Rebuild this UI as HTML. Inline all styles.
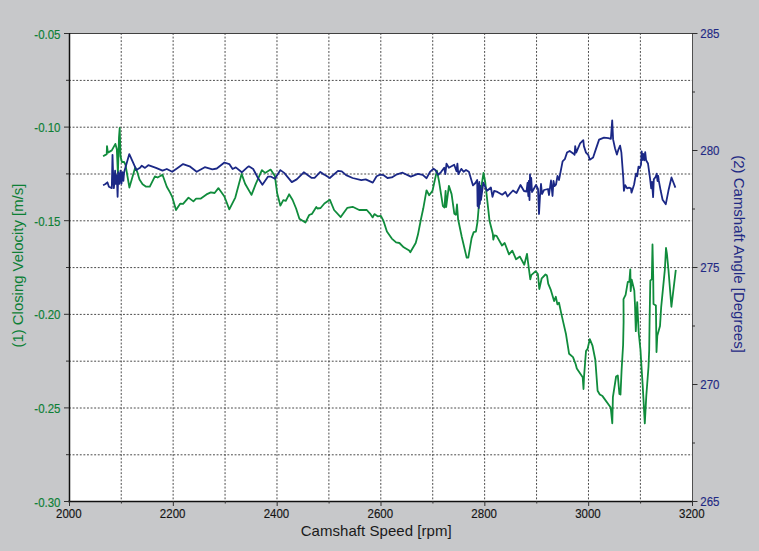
<!DOCTYPE html>
<html><head><meta charset="utf-8"><style>
html,body{margin:0;padding:0;background:#c7c8ca;width:759px;height:551px;overflow:hidden}
svg{display:block}
text{font-family:"Liberation Sans",sans-serif;stroke-width:0.15px}
</style></head><body>
<svg width="759" height="551" viewBox="0 0 759 551">
<rect x="0" y="0" width="759" height="551" fill="#c7c8ca"/>
<rect x="69.0" y="33.0" width="623.0" height="468.0" fill="#ffffff"/>

<g stroke="#4a4a4a" stroke-width="1" stroke-dasharray="1.9 1.7"><line x1="121.22" y1="33.0" x2="121.22" y2="501.0"/><line x1="173.13" y1="33.0" x2="173.13" y2="501.0"/><line x1="225.05" y1="33.0" x2="225.05" y2="501.0"/><line x1="276.97" y1="33.0" x2="276.97" y2="501.0"/><line x1="328.89" y1="33.0" x2="328.89" y2="501.0"/><line x1="380.80" y1="33.0" x2="380.80" y2="501.0"/><line x1="432.72" y1="33.0" x2="432.72" y2="501.0"/><line x1="484.64" y1="33.0" x2="484.64" y2="501.0"/><line x1="536.55" y1="33.0" x2="536.55" y2="501.0"/><line x1="588.47" y1="33.0" x2="588.47" y2="501.0"/><line x1="640.39" y1="33.0" x2="640.39" y2="501.0"/><line x1="69.0" y1="80.40" x2="692.0" y2="80.40"/><line x1="69.0" y1="127.20" x2="692.0" y2="127.20"/><line x1="69.0" y1="174.00" x2="692.0" y2="174.00"/><line x1="69.0" y1="220.80" x2="692.0" y2="220.80"/><line x1="69.0" y1="267.60" x2="692.0" y2="267.60"/><line x1="69.0" y1="314.40" x2="692.0" y2="314.40"/><line x1="69.0" y1="361.20" x2="692.0" y2="361.20"/><line x1="69.0" y1="408.00" x2="692.0" y2="408.00"/><line x1="69.0" y1="454.80" x2="692.0" y2="454.80"/></g>
<polyline fill="none" stroke="#108c3c" stroke-width="1.8" stroke-linejoin="round" points="103.1,156.2 106.7,154.1 107.0,146.1 107.9,152.6 111.8,150.4 115.4,143.9 116.8,149.0 117.9,173.6 119.0,137.4 119.7,128.0 120.5,156.2 121.9,162.0 124.1,162.0 125.5,164.9 129.4,187.5 135.3,167.3 137.1,171.6 139.5,179.5 142.6,184.3 145.8,186.6 149.8,186.6 154.9,176.4 157.6,177.5 162.5,174.8 166.8,186.8 170.0,192.4 172.2,196.8 176.0,210.1 180.3,203.6 183.1,203.9 188.5,197.6 193.4,201.4 196.1,198.7 200.5,198.7 206.5,194.4 210.8,192.4 214.6,193.0 218.4,188.1 224.4,196.5 229.3,209.4 235.3,197.6 241.6,173.9 245.1,183.7 251.5,194.9 255.9,183.7 261.9,170.1 265.1,172.9 270.6,169.6 274.9,176.1 277.1,193.0 280.4,205.7 283.3,200.2 285.8,200.8 289.1,194.3 292.6,200.0 296.1,208.5 299.4,218.8 305.4,222.6 309.2,215.0 311.9,213.9 316.3,206.9 317.4,208.5 320.6,208.0 324.4,203.5 329.8,199.7 334.1,210.0 340.7,217.1 347.2,207.9 352.6,206.8 359.2,210.0 366.8,210.0 370.0,213.6 372.7,217.4 374.4,214.1 377.6,216.3 380.9,215.8 383.6,221.2 386.9,231.6 391.8,238.6 396.1,242.4 399.4,243.0 403.7,247.3 409.2,250.6 410.3,252.2 415.7,243.0 417.9,234.8 421.1,218.5 423.3,208.3 426.5,190.3 429.2,195.2 432.5,190.8 436.9,170.6 439.0,181.1 442.9,206.1 444.5,207.5 445.6,190.8 446.2,207.0 448.9,185.9 451.6,194.1 454.3,213.7 455.9,214.8 457.0,204.5 458.1,219.2 461.8,237.0 466.7,257.7 468.3,257.7 471.6,238.1 473.7,232.1 475.9,231.6 477.5,221.8 478.6,208.7 481.3,187.2 483.5,173.0 485.2,181.8 489.5,220.7 492.8,233.7 493.3,239.7 494.4,235.3 496.6,235.9 502.0,245.5 504.7,243.0 509.0,254.4 512.3,250.6 516.1,259.3 519.9,256.6 524.3,264.7 527.0,253.8 528.0,262.0 530.3,279.4 531.3,275.1 535.7,271.2 537.9,274.0 539.3,289.0 541.7,278.3 545.5,274.5 546.5,275.0 547.1,276.1 548.2,283.7 550.9,290.2 554.1,301.1 555.8,296.8 557.4,304.4 559.0,302.7 561.2,313.1 563.4,322.9 565.9,333.7 569.1,353.8 573.0,357.1 575.7,364.2 576.8,368.5 582.7,377.2 583.5,389.0 584.0,377.0 586.0,351.1 587.6,348.9 589.8,339.1 592.5,345.7 595.3,359.8 597.6,390.7 599.8,394.5 602.5,396.1 610.7,407.5 612.3,423.3 612.9,397.2 616.1,376.5 617.8,375.4 619.4,393.9 620.5,394.5 621.6,370.0 623.1,345.0 623.6,322.0 623.5,299.2 625.6,294.8 627.8,281.8 629.3,281.8 630.3,269.4 630.7,291.2 631.7,279.6 634.3,290.5 635.0,305.0 635.8,331.1 637.2,302.1 638.7,332.6 640.5,350.0 641.2,362.4 642.7,385.6 644.8,423.4 646.3,395.8 648.5,366.8 649.2,350.0 649.6,320.0 650.3,280.7 651.8,279.2 652.5,244.4 653.2,276.3 653.5,303.9 655.9,305.4 656.5,352.0 657.3,335.7 660.0,326.0 661.2,306.8 664.9,269.1 666.0,248.0 667.0,254.5 668.5,270.5 671.4,306.8 675.8,269.8"/>
<polyline fill="none" stroke="#1b2886" stroke-width="1.8" stroke-linejoin="round" points="103.1,185.2 105.5,184.0 107.4,182.3 108.9,186.7 111.8,188.1 112.5,154.8 113.2,176.5 113.9,188.1 115.1,170.7 115.7,183.8 116.8,175.1 117.6,196.8 118.3,172.2 119.4,183.8 120.5,170.7 121.5,183.8 122.3,172.2 123.4,180.9 124.1,172.2 129.3,154.1 134.8,166.4 136.4,170.0 140.0,167.8 141.8,165.7 145.0,167.9 148.3,165.2 156.0,167.9 162.5,170.6 166.8,169.0 172.2,171.8 177.6,168.0 183.1,164.1 189.6,166.3 196.7,171.8 204.8,167.2 212.4,169.4 216.8,168.5 224.4,162.5 229.3,164.1 232.6,169.0 235.8,167.4 241.8,172.3 247.8,166.9 248.8,166.3 253.2,169.0 257.5,177.2 262.4,184.8 267.9,176.7 271.1,176.7 274.9,178.8 280.4,170.1 284.2,172.9 291.8,182.1 296.7,179.4 303.8,172.3 311.4,177.8 314.6,177.8 320.3,171.9 323.3,174.1 325.0,175.0 329.8,178.0 338.0,170.9 341.8,171.4 346.1,175.2 352.6,178.0 361.3,180.1 365.7,179.4 372.8,182.6 376.6,176.3 379.8,174.7 383.7,175.2 387.5,178.0 391.8,177.4 396.2,174.7 402.6,172.7 410.8,176.6 417.9,173.8 422.7,174.9 426.6,178.2 430.0,171.8 433.5,168.6 435.3,170.0 438.3,174.8 441.2,171.8 444.2,167.7 445.3,174.2 446.5,163.6 448.9,167.7 454.2,164.7 456.5,171.2 457.4,163.6 458.3,174.2 461.3,168.9 463.6,171.8 466.0,170.0 468.9,171.8 473.0,185.4 475.4,183.0 477.2,180.0 477.6,206.0 478.2,184.0 478.7,208.0 479.3,182.0 479.8,204.0 480.4,186.0 481.0,200.0 483.3,182.6 487.1,190.8 490.9,187.5 492.5,196.8 494.2,190.8 497.4,191.9 501.8,194.6 502.5,194.5 505.5,192.0 507.5,196.5 513.0,190.5 516.5,193.0 520.5,185.0 524.0,191.0 526.5,191.5 527.5,183.0 528.3,196.0 528.8,181.0 529.5,200.0 530.0,174.5 530.5,190.0 531.2,178.0 532.0,192.0 536.0,185.0 538.0,189.0 539.0,214.0 540.0,196.0 541.0,184.0 542.0,194.0 544.0,190.0 548.0,189.0 549.0,195.0 551.0,180.5 552.5,196.0 553.5,181.0 554.5,186.0 556.0,184.5 557.5,176.0 559.0,180.0 562.6,161.3 564.8,159.2 567.0,152.6 569.7,151.0 573.5,153.7 574.6,154.8 575.2,146.1 576.2,152.6 580.1,143.4 583.3,140.1 583.9,146.1 586.0,152.6 588.2,154.8 589.8,159.7 593.1,157.5 595.8,149.4 599.1,139.6 604.0,137.6 608.3,138.2 610.9,138.8 612.2,120.3 613.1,139.4 615.0,148.3 616.9,154.6 618.2,150.2 620.1,145.7 621.4,152.7 623.3,178.1 623.9,190.8 625.2,185.1 627.1,188.3 629.0,187.6 630.9,188.3 631.5,192.7 634.1,184.5 636.0,173.7 637.2,176.2 638.5,166.7 639.8,168.0 641.0,164.8 641.7,151.4 642.4,160.0 643.2,154.0 644.2,160.3 645.2,152.1 646.1,160.3 648.0,163.5 650.0,178.1 651.2,188.3 652.0,182.0 653.1,197.2 653.8,179.4 655.7,176.8 656.7,173.7 657.5,181.0 658.2,176.0 658.8,180.7 660.7,190.8 662.6,199.7 665.8,204.2 668.4,190.8 671.5,177.5 675.4,187.6"/>
<line x1="69.0" y1="33.5" x2="692.0" y2="33.5" stroke="#404040" stroke-width="1"/>
<line x1="692.5" y1="33.0" x2="692.5" y2="502.0" stroke="#505050" stroke-width="1"/>
<line x1="68.0" y1="501.5" x2="693.0" y2="501.5" stroke="#101010" stroke-width="1.3"/>
<line x1="69.5" y1="33.0" x2="69.5" y2="502.0" stroke="#101010" stroke-width="1.5"/>
<g stroke="#303030" stroke-width="1"><line x1="64.0" y1="33.50" x2="69.0" y2="33.50"/><line x1="66.0" y1="80.30" x2="69.0" y2="80.30"/><line x1="64.0" y1="127.10" x2="69.0" y2="127.10"/><line x1="66.0" y1="173.90" x2="69.0" y2="173.90"/><line x1="64.0" y1="220.70" x2="69.0" y2="220.70"/><line x1="66.0" y1="267.50" x2="69.0" y2="267.50"/><line x1="64.0" y1="314.30" x2="69.0" y2="314.30"/><line x1="66.0" y1="361.10" x2="69.0" y2="361.10"/><line x1="64.0" y1="407.90" x2="69.0" y2="407.90"/><line x1="66.0" y1="454.70" x2="69.0" y2="454.70"/><line x1="64.0" y1="501.50" x2="69.0" y2="501.50"/><line x1="692.0" y1="33.50" x2="697.5" y2="33.50"/><line x1="692.0" y1="92.00" x2="695.0" y2="92.00"/><line x1="692.0" y1="150.50" x2="697.5" y2="150.50"/><line x1="692.0" y1="209.00" x2="695.0" y2="209.00"/><line x1="692.0" y1="267.50" x2="697.5" y2="267.50"/><line x1="692.0" y1="326.00" x2="695.0" y2="326.00"/><line x1="692.0" y1="384.50" x2="697.5" y2="384.50"/><line x1="692.0" y1="443.00" x2="695.0" y2="443.00"/><line x1="692.0" y1="501.50" x2="697.5" y2="501.50"/><line x1="69.50" y1="501.0" x2="69.50" y2="506.0"/><line x1="121.42" y1="501.0" x2="121.42" y2="503.5"/><line x1="173.33" y1="501.0" x2="173.33" y2="506.0"/><line x1="225.25" y1="501.0" x2="225.25" y2="503.5"/><line x1="277.17" y1="501.0" x2="277.17" y2="506.0"/><line x1="329.08" y1="501.0" x2="329.08" y2="503.5"/><line x1="381.00" y1="501.0" x2="381.00" y2="506.0"/><line x1="432.92" y1="501.0" x2="432.92" y2="503.5"/><line x1="484.83" y1="501.0" x2="484.83" y2="506.0"/><line x1="536.75" y1="501.0" x2="536.75" y2="503.5"/><line x1="588.67" y1="501.0" x2="588.67" y2="506.0"/><line x1="640.58" y1="501.0" x2="640.58" y2="503.5"/><line x1="692.50" y1="501.0" x2="692.50" y2="506.0"/></g>
<text transform="translate(60.5,38.50) scale(0.95,1)" text-anchor="end" fill="#0c7f35" stroke="#0c7f35" font-size="12.1">-0.05</text><text transform="translate(60.5,132.10) scale(0.95,1)" text-anchor="end" fill="#0c7f35" stroke="#0c7f35" font-size="12.1">-0.10</text><text transform="translate(60.5,225.70) scale(0.95,1)" text-anchor="end" fill="#0c7f35" stroke="#0c7f35" font-size="12.1">-0.15</text><text transform="translate(60.5,319.30) scale(0.95,1)" text-anchor="end" fill="#0c7f35" stroke="#0c7f35" font-size="12.1">-0.20</text><text transform="translate(60.5,412.90) scale(0.95,1)" text-anchor="end" fill="#0c7f35" stroke="#0c7f35" font-size="12.1">-0.25</text><text transform="translate(60.5,506.50) scale(0.95,1)" text-anchor="end" fill="#0c7f35" stroke="#0c7f35" font-size="12.1">-0.30</text><text transform="translate(700.3,37.80) scale(0.95,1)" fill="#1f2a84" stroke="#1f2a84" font-size="12.1">285</text><text transform="translate(700.3,154.80) scale(0.95,1)" fill="#1f2a84" stroke="#1f2a84" font-size="12.1">280</text><text transform="translate(700.3,271.80) scale(0.95,1)" fill="#1f2a84" stroke="#1f2a84" font-size="12.1">275</text><text transform="translate(700.3,388.80) scale(0.95,1)" fill="#1f2a84" stroke="#1f2a84" font-size="12.1">270</text><text transform="translate(700.3,505.80) scale(0.95,1)" fill="#1f2a84" stroke="#1f2a84" font-size="12.1">265</text><text transform="translate(68.80,518) scale(0.95,1)" text-anchor="middle" fill="#141414" stroke="#141414" font-size="12.1">2000</text><text transform="translate(172.63,518) scale(0.95,1)" text-anchor="middle" fill="#141414" stroke="#141414" font-size="12.1">2200</text><text transform="translate(276.47,518) scale(0.95,1)" text-anchor="middle" fill="#141414" stroke="#141414" font-size="12.1">2400</text><text transform="translate(380.30,518) scale(0.95,1)" text-anchor="middle" fill="#141414" stroke="#141414" font-size="12.1">2600</text><text transform="translate(484.13,518) scale(0.95,1)" text-anchor="middle" fill="#141414" stroke="#141414" font-size="12.1">2800</text><text transform="translate(587.97,518) scale(0.95,1)" text-anchor="middle" fill="#141414" stroke="#141414" font-size="12.1">3000</text><text transform="translate(691.80,518) scale(0.95,1)" text-anchor="middle" fill="#141414" stroke="#141414" font-size="12.1">3200</text>
<text x="376.2" y="536" text-anchor="middle" fill="#1a1a1a" font-size="15" letter-spacing="0.05">Camshaft Speed [rpm]</text>
<text transform="translate(23,265.6) rotate(-90)" text-anchor="middle" fill="#0c7f35" font-size="14.9">(1) Closing Velocity [m/s]</text>
<text transform="translate(733.6,254.0) rotate(90)" text-anchor="middle" fill="#1f2a84" font-size="15">(2) Camshaft Angle [Degrees]</text>
</svg></body></html>
